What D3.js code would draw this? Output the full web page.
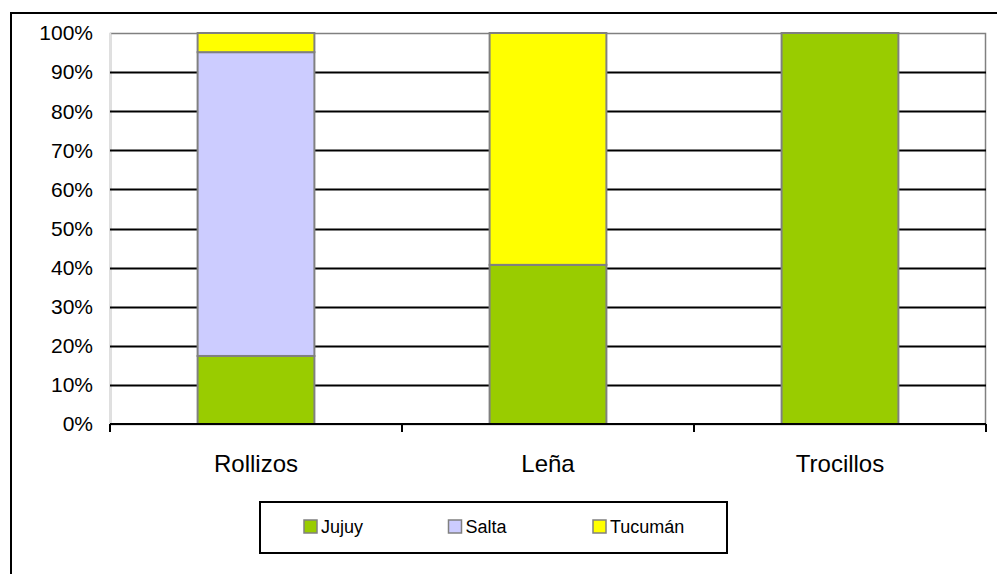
<!DOCTYPE html>
<html>
<head>
<meta charset="utf-8">
<script src="https://cdn.jsdelivr.net/npm/d3@7"></script>
<style>
body { margin: 0; background: #fff; }
svg { display: block; font-family: "Liberation Sans", Arial, sans-serif; }
</style>
</head>
<body>
<svg id="chart"></svg>
<script>
var categories = ["Rollizos", "Leña", "Trocillos"];
var series = ["Jujuy", "Salta", "Tucumán"];
var jujuy = [17.4, 40.7, 100];
var salta = [77.7, 0, 0];
var tucuman = [4.9, 59.3, 0];
var colors = ["#99cc00", "#ccccff", "#ffff00"];
var yTicks = [0, 10, 20, 30, 40, 50, 60, 70, 80, 90, 100];

var width = 997, height = 574;
var margin = {left: 110, top: 33, right: 11, bottom: 150};
var w = width - margin.left - margin.right;
var h = height - margin.top - margin.bottom;

var svg = d3.select("#chart")
    .attr("width", width)
    .attr("height", height);

// outer frame
svg.append("rect")
    .attr("x", 11).attr("y", 13)
    .attr("width", 1000).attr("height", 600)
    .attr("fill", "none")
    .attr("stroke", "#000")
    .attr("stroke-width", 2);

var g = svg.append("g")
    .attr("transform", "translate(" + margin.left + "," + margin.top + ")");

var x = d3.scaleBand()
    .domain(categories)
    .range([0, w])
    .paddingInner(0.6)
    .paddingOuter(0.3);

var y = d3.scaleLinear()
    .domain([0, 100])
    .range([h, 0]);

// plot border
g.append("rect")
    .attr("x", 0.5).attr("y", 0.5)
    .attr("width", w - 1).attr("height", h)
    .attr("fill", "none")
    .attr("stroke", "#808080")
    .attr("stroke-width", 1.5);
g.append("line")
    .attr("x1", 0.5).attr("x2", 0.5)
    .attr("y1", 0).attr("y2", h)
    .attr("stroke", "#e0e0e0")
    .attr("stroke-width", 1.5);

// gridlines
g.selectAll(".grid")
    .data(yTicks.filter(function (d) { return d > 0 && d < 100; }))
    .enter().append("line")
    .attr("x1", 0).attr("x2", w)
    .attr("y1", function (d) { return Math.round(y(d)) + 0.5; })
    .attr("y2", function (d) { return Math.round(y(d)) + 0.5; })
    .attr("stroke", "#000")
    .attr("stroke-width", 2);

var data = categories.map(function (c, i) {
    return {cat: c, Jujuy: jujuy[i], Salta: salta[i], "Tucumán": tucuman[i]};
});
var stacked = d3.stack().keys(series)(data);

g.selectAll(".layer")
    .data(stacked)
    .enter().append("g")
    .attr("fill", function (d, i) { return colors[i]; })
    .selectAll("rect")
    .data(function (d) { return d.filter(function (p) { return p[1] - p[0] > 0; }); })
    .enter().append("rect")
    .attr("x", function (d) { return x(d.data.cat); })
    .attr("width", x.bandwidth())
    .attr("y", function (d) { return y(d[1]); })
    .attr("height", function (d) { return y(d[0]) - y(d[1]); })
    .attr("stroke", "#808080")
    .attr("stroke-width", 2);

// y axis labels
g.selectAll(".ylab")
    .data(yTicks)
    .enter().append("text")
    .attr("x", -17)
    .attr("y", function (d) { return y(d); })
    .attr("dy", "0.35em")
    .attr("text-anchor", "end")
    .attr("font-size", 21)
    .text(function (d) { return d + "%"; });

// x axis
var xAxis = g.append("g").attr("transform", "translate(0," + h + ")");
xAxis.append("line")
    .attr("x1", 0).attr("x2", w)
    .attr("stroke", "#000").attr("stroke-width", 2);
var step = w / categories.length;
xAxis.selectAll(".tick")
    .data(d3.range(categories.length + 1))
    .enter().append("line")
    .attr("x1", function (d) { return d * step; })
    .attr("x2", function (d) { return d * step; })
    .attr("y1", 0).attr("y2", 8)
    .attr("stroke", "#000").attr("stroke-width", 2);
xAxis.selectAll(".xlab")
    .data(categories)
    .enter().append("text")
    .attr("x", function (d) { return x(d) + x.bandwidth() / 2; })
    .attr("y", 48)
    .attr("text-anchor", "middle")
    .attr("font-size", 24)
    .text(function (d) { return d; });

// legend
var legend = svg.append("g").attr("transform", "translate(260,502)");
legend.append("rect")
    .attr("width", 467).attr("height", 51)
    .attr("fill", "#fff")
    .attr("stroke", "#000").attr("stroke-width", 2);
var item = legend.selectAll(".item")
    .data(series)
    .enter().append("g")
    .attr("transform", function (d, i) { return "translate(" + (44 + i * 144.5) + ",18)"; });
item.append("rect")
    .attr("width", 13).attr("height", 13)
    .attr("fill", function (d, i) { return colors[i]; })
    .attr("stroke", "#808080").attr("stroke-width", 1.5);
item.append("text")
    .attr("x", 17).attr("y", 13)
    .attr("font-size", 18)
    .text(function (d) { return d; });
</script>
</body>
</html>
